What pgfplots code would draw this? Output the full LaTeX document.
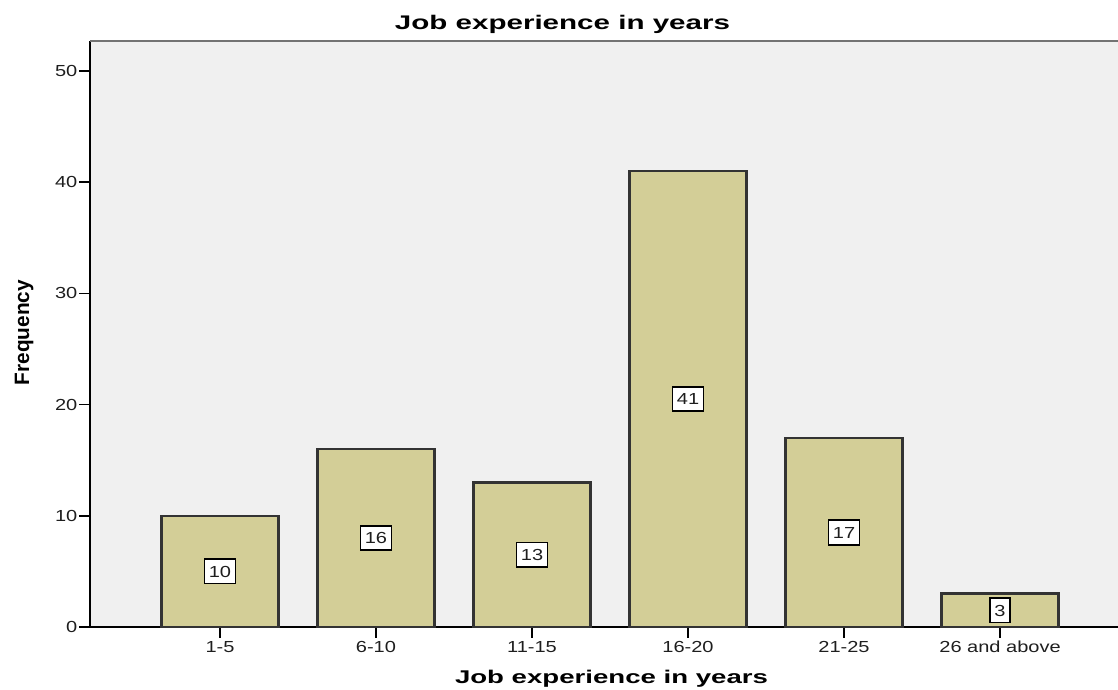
\documentclass[border=0pt]{standalone}
\usepackage{fontspec}
\setmainfont{Liberation Sans}[FakeStretch=1.25]
\newfontfamily\titlefont{Liberation Sans}[FakeStretch=1.5]
\newfontfamily\ylabfont{Liberation Sans}
\usepackage{pgfplots}
\pgfplotsset{compat=1.18}
\usepackage{pgfplotstable}
\definecolor{barfill}{RGB}{211,206,151}
\definecolor{bg}{RGB}{240,240,240}
\definecolor{txt}{RGB}{30,30,30}

\pgfplotstableread{
x y
0 10
1 16
2 13
3 41
4 17
5 3
}\datatable

\begin{document}
\begin{tikzpicture}[x=1bp,y=1bp]
\path[use as bounding box] (0,0) rectangle (1118,690);
\begin{axis}[
  at={(90bp,63bp)}, anchor=south west,
  scale only axis, width=1028bp, height=586bp,
  xmin=-0.833, xmax=5.756, ymin=0, ymax=52.7,
  axis x line*=bottom, axis y line*=left,
  axis line style={black, line width=1.6bp},
  axis background/.style={fill=bg},
  xtick={0,...,5},
  xticklabels={1-5,6-10,11-15,16-20,21-25,26 and above},
  ytick={0,10,...,50},
  tick align=outside,
  major tick length=11bp,
  tick style={black, line width=1.6bp},
  /pgf/number format/assume math mode=true,
  ticklabel style={font=\fontsize{16bp}{19bp}\selectfont, text=txt},
  yticklabel style={inner xsep=1.5bp},
  xticklabel style={inner ysep=3bp},
  clip=false,
]
\addplot[ybar, bar width=0.75, fill=barfill, draw=black!80, line width=2.4bp]
  table[x=x, y=y]{\datatable};
\addplot[draw=none, mark=none, nodes near coords, point meta=\thisrow{y},
  nodes near coords style={anchor=center, fill=white, draw=black, line width=1.6bp,
    font=\fontsize{16bp}{19bp}\selectfont, text=txt, inner xsep=4.5bp, inner ysep=6.5bp,
    text height=11.5bp, text depth=0pt}]
  table[x=x, y expr=\thisrow{y}/2]{\datatable};
\draw[black!55, line width=2.2bp] (rel axis cs:0,1) -- (rel axis cs:1,1);
\end{axis}
\node[anchor=base, font=\titlefont\bfseries\fontsize{19.7bp}{22bp}\selectfont, text=black]
  at (562.5,660) {Job experience in years};
\node[anchor=base, font=\titlefont\bfseries\fontsize{18.4bp}{21bp}\selectfont, text=black]
  at (611.5,6) {Job experience in years};
\node[anchor=base, rotate=90, font=\ylabfont\bfseries\fontsize{20.8bp}{23bp}\selectfont, text=black]
  at (29,357.5) {Frequency};
\end{tikzpicture}
\end{document}
